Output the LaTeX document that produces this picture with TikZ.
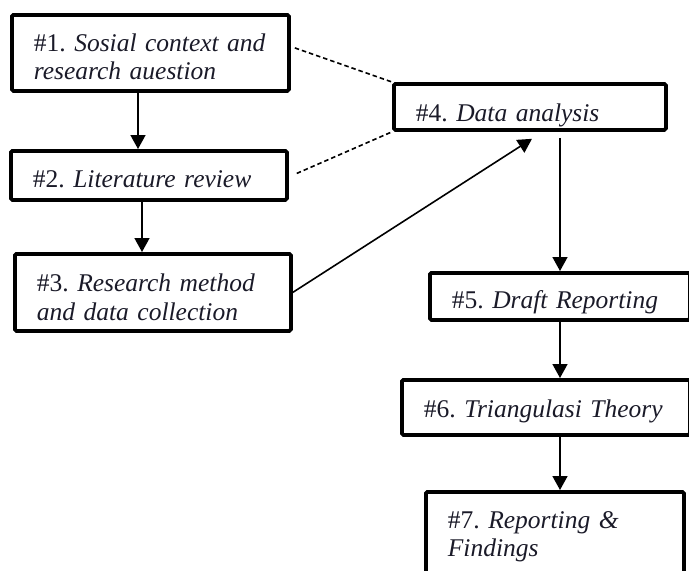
\documentclass[tikz,border=0pt]{standalone}
\usepackage{fontspec}
\setmainfont{Liberation Serif}
\usetikzlibrary{calc, arrows.meta}
\usetikzlibrary{positioning}
\definecolor{inkcol}{RGB}{26,26,40}
\tikzset{
  stagebox/.style={draw, line width=3.8pt, rounded corners=1.5pt, anchor=north west,
    align=left, inner xsep=22pt, inner ysep=0pt, text=inkcol,
    font=\fontsize{25.5}{28.5}\selectfont\frenchspacing},
  flow/.style={-{Triangle[length=14pt,width=15pt]}, line width=1.6pt},
  link/.style={line width=1.6pt, dash pattern=on 4.5pt off 3pt},
}
% name, left, top, text width, height, strut of first line, label
\newcommand\stagebox[7]{%
    \node (#1) [stagebox, text width=#4pt, minimum height=#5pt] at (#2,#3) {\rule{0pt}{#6pt}#7};
}
\begin{document}
\begin{tikzpicture}[x=1pt,y=-1pt]

\useasboundingbox (0,0) rectangle (689,571);

% left column
\stagebox{b1}{10}{13} {233}{76}{25.5}{\#1. \textit{Sosial context and}\\\textit{research auestion}}
\stagebox{b2}{9}{149} {232}{49}{25.5}{\#2. \textit{Literature review}}
\stagebox{b3}{13}{252}{232}{77}{27.5}{\#3. \textit{Research method}\\\textit{and data collection}}

% right column
\stagebox{b4}{392}{82} {228}{46}{35}{\#4. \textit{Data analysis}}
\stagebox{b5}{428}{271}{216}{47}{29.5}{\#5. \textit{Draft Reporting}}
\stagebox{b6}{400}{378}{244}{55}{25.5}{\#6. \textit{Triangulasi Theory}}
\stagebox{b7}{424}{490}{214}{90}{0}{\#7. \textit{Reporting \&}\\\textit{Findings}}

% arrows
\draw [flow] ([xshift=128pt]b1.south west) -- ([xshift=128pt]b1.south west |- b2.north);
\draw [flow] ([xshift=133pt]b2.south west) -- ([xshift=133pt]b2.south west |- b3.north);
\draw [flow] (b3.east) -- ($(b4.south west)+(140,7)$);
\draw [flow] ([xshift=168pt,yshift=-6pt]b4.south west) -- ([xshift=168pt]b4.south west |- b5.north);
\draw [flow] ([xshift=132pt]b5.south west) -- ([xshift=132pt]b5.south west |- b6.north);
\draw [flow] ([xshift=160pt]b6.south west) -- ([xshift=160pt]b6.south west |- b7.north);

% dashed links
\draw [link] ([xshift=4pt,yshift=5pt]b1.east) -- (b4.north west);
\draw [link] ([xshift=8pt,yshift=2pt]b2.east) -- (b4.south west);

\end{tikzpicture}
\end{document}
